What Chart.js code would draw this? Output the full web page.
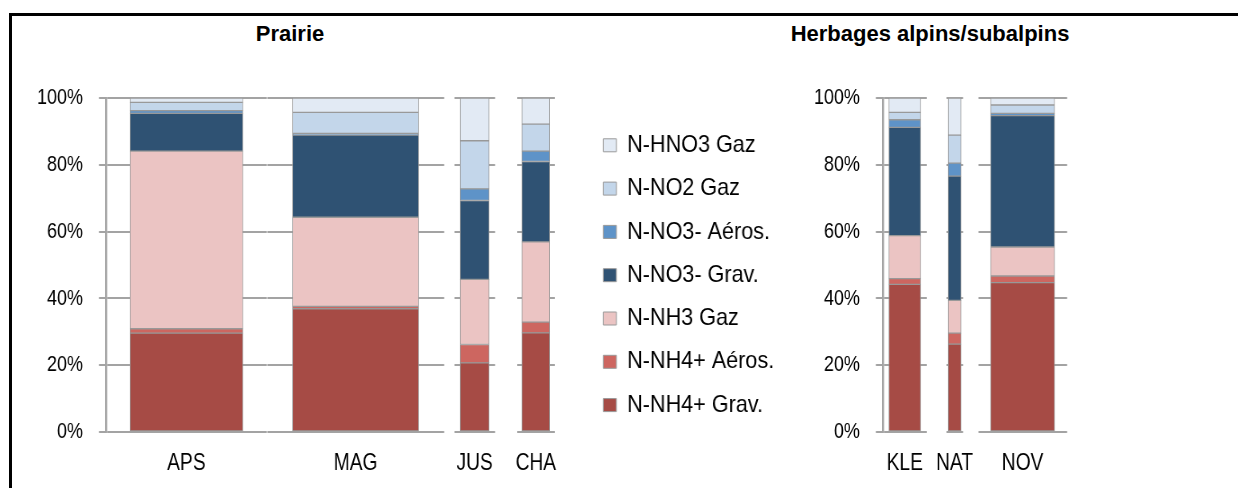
<!DOCTYPE html>
<html><head><meta charset="utf-8">
<script src="https://cdn.jsdelivr.net/npm/chart.js@4.4.1/dist/chart.umd.min.js"></script>
<style>
html,body{margin:0;padding:0;background:#fff;}
body{width:1238px;height:488px;position:relative;overflow:hidden;}
#frame{position:absolute;left:9px;top:13px;width:1300px;height:600px;border-left:3px solid #000;border-top:3px solid #000;}
.title{position:absolute;font-family:'Liberation Sans',Arial,sans-serif;font-weight:bold;font-size:22px;line-height:22px;color:#000;white-space:nowrap;transform:translateX(-50%);}
canvas{position:absolute;}
</style></head><body>
<div id="frame"></div>
<div class="title" style="left:290px;top:22.5px">Prairie</div>
<div class="title" style="left:930px;top:22.5px">Herbages alpins/subalpins</div>
<script>
// ---- data ----
const sites = ['APS', 'MAG', 'JUS', 'CHA', 'KLE', 'NAT', 'NOV'];
const seriesNames = ['N-NH4+ Grav.', 'N-NH4+ Aéros.', 'N-NH3 Gaz', 'N-NO3- Grav.', 'N-NO3- Aéros.', 'N-NO2 Gaz', 'N-HNO3 Gaz'];
const nh4Grav  = [29.6, 36.9, 20.7, 29.7, 44.2, 26.3, 44.7];
const nh4Aeros = [1.3, 0.7, 5.5, 3.2, 1.7, 3.3, 2.0];
const nh3Gaz   = [53.2, 26.7, 19.5, 24.0, 12.9, 9.8, 8.7];
const no3Grav  = [11.3, 24.6, 23.6, 24.1, 32.4, 37.2, 39.3];
const no3Aeros = [0.8, 0.5, 3.5, 3.1, 2.3, 3.9, 0.7];
const no2Gaz   = [2.5, 6.3, 14.4, 8.1, 2.2, 8.4, 2.5];
const hno3Gaz  = [1.3, 4.3, 12.8, 7.8, 4.3, 11.1, 2.1];
const yTicks = [0, 20, 40, 60, 80, 100];

// ---- styles / layout ----
const seriesValues = [nh4Grav, nh4Aeros, nh3Gaz, no3Grav, no3Aeros, no2Gaz, hno3Gaz];
const colors = ['#A64B45', '#CD6660', '#EBC4C3', '#2F5273', '#5E93C8', '#C3D6EA', '#E2EAF4'];
const BORDER = '#999999';
const GRID = '#a3a3a3';
const FONT = "'Liberation Sans', Arial, sans-serif";
// horizontal compression of the text (the reference lettering is narrow)
const S = 0.8;      // bar charts
const SL = 0.9;     // legend
const panels = [
  {l: 106, r: 267, bar: 113, axis: true},
  {l: 267, r: 444, bar: 126},
  {l: 454, r: 495, bar: 29},
  {l: 517, r: 555, bar: 28},
  {l: 883, r: 927, bar: 32, axis: true},
  {l: 946, r: 963, bar: 13},
  {l: 978, r: 1067, bar: 64}
];
const TOP = 60, H = 428, PAD_TOP = 38, XAXIS_H = 56, YAXIS_W = 96, SIDE = 70;

function makeCanvas(left, top, wUnits, h, scale) {
  const c = document.createElement('canvas');
  c.width = wUnits; c.height = h;
  c.style.left = left + 'px'; c.style.top = top + 'px';
  c.style.width = (wUnits * scale) + 'px'; c.style.height = h + 'px';
  document.body.appendChild(c);
  return c;
}

sites.forEach((site, i) => {
  const p = panels[i];
  const axis = !!p.axis;
  const left = axis ? p.l - YAXIS_W : p.l - SIDE;
  const wUnits = Math.round((p.r + SIDE - left) / S);
  const cv = makeCanvas(left, TOP, wUnits, H, S);
  new Chart(cv, {
    type: 'bar',
    data: {
      labels: [site],
      datasets: seriesValues.map((arr, k) => ({
        label: seriesNames[k],
        data: [arr[i]],
        backgroundColor: colors[k],
        borderColor: BORDER,
        borderWidth: 1,
        borderSkipped: false,
        barThickness: p.bar / S
      }))
    },
    options: {
      responsive: false,
      animation: false,
      devicePixelRatio: 1,
      layout: {padding: {left: axis ? 0 : SIDE / S, right: wUnits - (p.r - left) / S, top: PAD_TOP, bottom: 0}},
      plugins: {legend: {display: false}, tooltip: {enabled: false}},
      scales: {
        x: {
          stacked: true,
          offset: true,
          grid: {display: false, drawTicks: false},
          border: {display: false},
          ticks: {font: {family: FONT, size: 24}, color: '#000', padding: 16.6, maxRotation: 0, autoSkip: false},
          afterFit: s => { s.height = XAXIS_H; }
        },
        y: {
          stacked: true,
          min: 0, max: 100,
          afterBuildTicks: s => { s.ticks = yTicks.map(v => ({value: v})); },
          ticks: {display: axis, callback: v => v + '%', font: {family: FONT, size: 22.5}, color: '#000', padding: 16 / S},
          grid: {color: GRID, lineWidth: 2, drawTicks: axis, tickLength: 7 / S},
          border: {display: axis, color: GRID, width: 2 / S},
          afterFit: s => { s.width = axis ? YAXIS_W / S : 0; }
        }
      }
    }
  });
});

// ---- legend ----
const LPAD = 19.3;
const lc = makeCanvas(603 - LPAD * SL, 113.7, 520, 360, SL);
new Chart(lc, {
  type: 'bar',
  data: {
    labels: [],
    datasets: seriesValues.map((arr, k) => ({
      label: seriesNames[k], data: [], backgroundColor: colors[k], borderColor: BORDER, borderWidth: 1
    }))
  },
  options: {
    responsive: false,
    animation: false,
    devicePixelRatio: 1,
    scales: {x: {display: false}, y: {display: false}},
    plugins: {
      tooltip: {enabled: false},
      legend: {
        display: true, position: 'left', align: 'start', reverse: true,
        labels: {boxWidth: 13 / SL, boxHeight: 13, padding: LPAD, color: '#000', font: {family: FONT, size: 24}}
      }
    }
  }
});
</script>
</body></html>
